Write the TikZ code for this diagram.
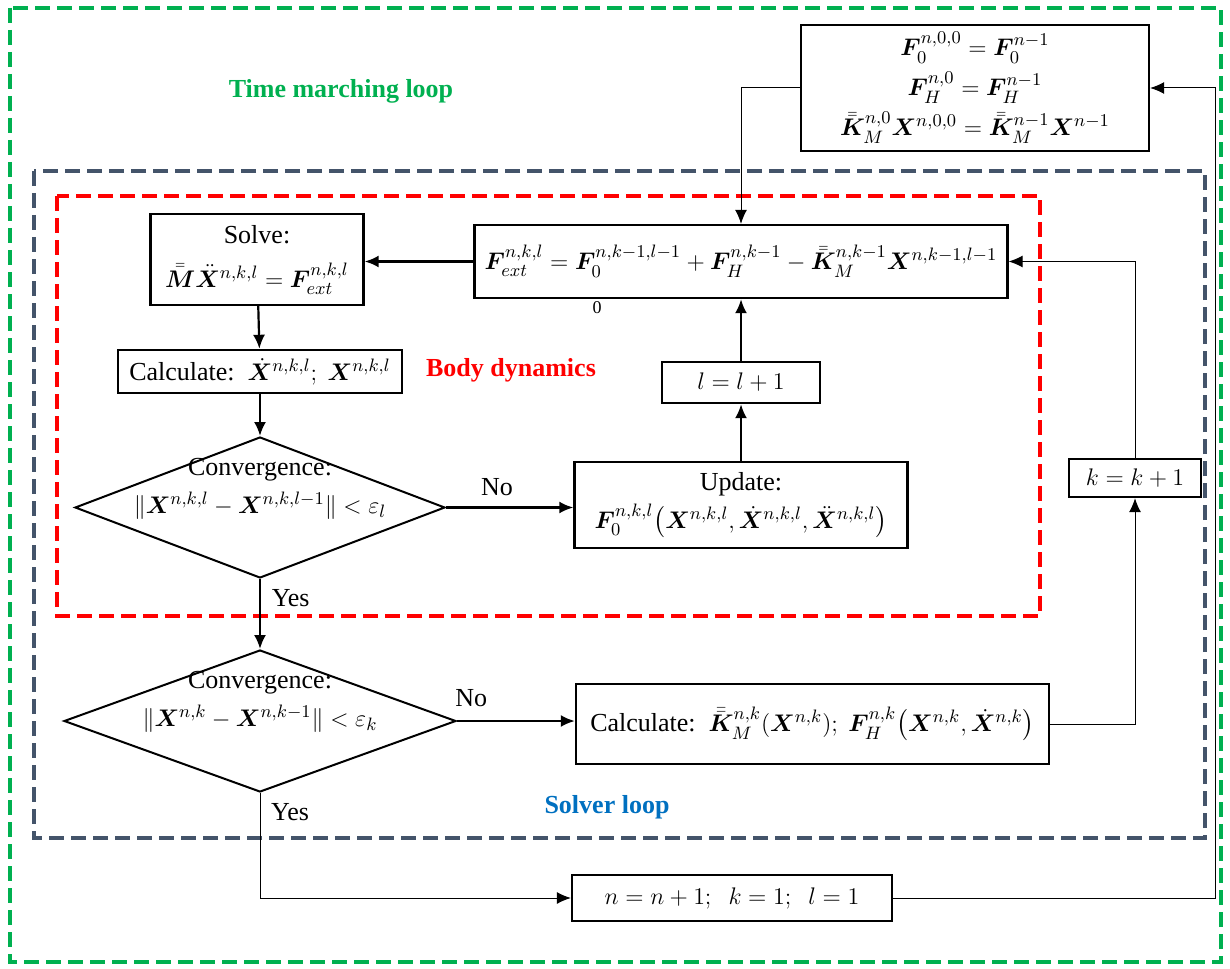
\documentclass[tikz,border=0pt]{standalone}
\usepackage{amsmath}
\usepackage{amssymb}
\usepackage{bm}
\usepackage{fontspec}
\setmainfont{Liberation Serif}
\usepackage{tikz}
\usetikzlibrary{shapes.geometric,arrows.meta}
\definecolor{loopgreen}{HTML}{00B050}
\definecolor{loopgray}{HTML}{44546A}
\definecolor{loopblue}{HTML}{0070C0}
\newcommand{\dbl}[1]{\bar{\bar{#1}}}

\begin{document}
\begin{tikzpicture}[x=0.5pt,y=-0.5pt,>={Latex[length=7pt,width=6pt]},
  every node/.style={font=\fontsize{13}{19}\selectfont},
  box/.style={draw,line width=1.2pt,align=center,inner sep=2pt},
  decision/.style={draw,diamond,line width=1pt,inner sep=0pt,aspect=2.6},
  flow/.style={line width=1.1pt},
  thinflow/.style={line width=0.5pt},
  frame/.style={line width=1.9pt,dash pattern=on 7.5pt off 3.5pt},
  tag/.style={font=\fontsize{13}{15.5}\selectfont\bfseries}]
\useasboundingbox (0,0) rectangle (1230,968);
% loops
\draw[frame,loopgreen] (10,8) rectangle (1221,962);
\draw[frame,loopgray] (34,171) rectangle (1205,838);
\draw[frame,red] (57,196) rectangle (1040,616);
\node[tag,text=loopgreen] (timelbl) at (341,91) {Time marching loop};
\node[tag,text=red] (bodylbl) at (511,370) {Body dynamics};
\node[tag,text=loopblue] (solverlbl) at (607,807) {Solver loop};
% boxes
\node[box,minimum width=174pt,minimum height=63pt,font=\fontsize{13}{20}\selectfont] (init) at (975,88)
  {$\bm{F}_0^{n,0,0} = \bm{F}_0^{n-1}$\\ $\bm{F}_H^{n,0} = \bm{F}_H^{n-1}$\\
   $\dbl{\bm{K}}_M^{n,0}\bm{X}^{n,0,0} = \dbl{\bm{K}}_M^{n-1}\bm{X}^{n-1}$};
\node[box,minimum width=266.5pt,minimum height=36.5pt] (fext) at (741,261.5)
  {$\bm{F}_{ext}^{n,k,l} = \bm{F}_0^{n,k-1,l-1} + \bm{F}_H^{n,k-1} - \dbl{\bm{K}}_M^{n,k-1}\bm{X}^{n,k-1,l-1}$};
\node[font=\fontsize{9}{10}\selectfont] (zero) at (597,308) {0};
\node[box,minimum width=106.5pt,minimum height=45.5pt,font=\fontsize{13}{22}\selectfont] (solve) at (257,259.5)
  {Solve:\\ $\dbl{\bm{M}}\ddot{\bm{X}}^{n,k,l} = \bm{F}_{ext}^{n,k,l}$};
\node[box,minimum width=142pt,minimum height=21.5pt] (calc) at (260,371.5)
  {Calculate:\ \ $\dot{\bm{X}}^{n,k,l};\ \bm{X}^{n,k,l}$};
\node[box,minimum width=79pt,minimum height=20.5pt] (lbox) at (741,382.5) {$l = l + 1$};
\node[decision,minimum width=185pt,minimum height=70.5pt] (conv1) at (260,507.5) {};
\node[align=center] (conv1txt) at (260,489)
  {Convergence:\\ $\|\bm{X}^{n,k,l} - \bm{X}^{n,k,l-1}\| < \varepsilon_l$};
\node[box,minimum width=166.5pt,minimum height=43pt] (update) at (741,505)
  {Update:\\ $\bm{F}_0^{n,k,l}\bigl(\bm{X}^{n,k,l}, \dot{\bm{X}}^{n,k,l}, \ddot{\bm{X}}^{n,k,l}\bigr)$};
\node[box,minimum width=66pt,minimum height=19pt] (kbox) at (1135,478) {$k = k + 1$};
\node[decision,minimum width=196pt,minimum height=71pt] (conv2) at (260,721) {};
\node[align=center] (conv2txt) at (260,702)
  {Convergence:\\ $\|\bm{X}^{n,k} - \bm{X}^{n,k-1}\| < \varepsilon_k$};
\node[box,minimum width=236.5pt,minimum height=40pt] (calck) at (812.5,724)
  {Calculate:\ \ $\dbl{\bm{K}}_M^{n,k}(\bm{X}^{n,k});\ \bm{F}_H^{n,k}\bigl(\bm{X}^{n,k}, \dot{\bm{X}}^{n,k}\bigr)$};
\node[box,minimum width=160pt,minimum height=23pt] (nbox) at (732,898) {$n = n + 1;\ \ k = 1;\ \ l = 1$};
% connectors
\draw[thinflow,->] (init.west) -| (fext.north);
\draw[flow,->] (fext.west) -- (fext.west -| solve.east);
\draw[flow,->] (solve) -- (calc);
\draw[flow,->] (calc) -- (conv1);
\draw[flow,->] (conv1.east) -- (conv1.east -| update.west) node[pos=0.4,above=2pt] (no1) {No};
\draw[flow,->] (update) -- (lbox);
\draw[flow,->] (lbox) -- (fext);
\draw[flow,->] (conv1) -- (conv2) node[pos=0.28,right=2pt] (yes1) {Yes};
\draw[flow,->] (conv2.east) -- (conv2.east -| calck.west) node[pos=0.12,above=3pt] (no2) {No};
\draw[thinflow,->] (calck.east) -| (kbox.south);
\draw[thinflow,->] (kbox.north) |- (fext.east);
\draw[thinflow,->] (conv2.south) |- (nbox.west) node[pos=0.09,right=2pt] (yes2) {Yes};
\coordinate (back) at (1215,898);
\draw[thinflow,->] (nbox.east) -- (back) |- (init.east);
\end{tikzpicture}
\end{document}
